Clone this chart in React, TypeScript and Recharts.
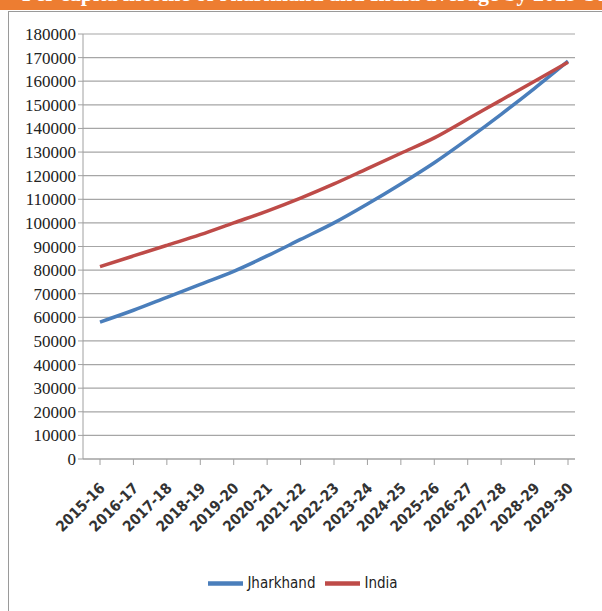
import {
  LineChart,
  Line,
  XAxis,
  YAxis,
  CartesianGrid,
  Legend,
} from "recharts";

const years = [
  "2015-16",
  "2016-17",
  "2017-18",
  "2018-19",
  "2019-20",
  "2020-21",
  "2021-22",
  "2022-23",
  "2023-24",
  "2024-25",
  "2025-26",
  "2026-27",
  "2027-28",
  "2028-29",
  "2029-30",
];

const jharkhand = [
  58000, 63000, 68500, 74000, 79500, 86000, 93000, 100000, 108000, 116500,
  125500, 135500, 146000, 157000, 168500,
];

const india = [
  81500, 86000, 90500, 95000, 100000, 105000, 110500, 116500, 123000, 129500,
  136000, 144000, 152000, 160000, 168000,
];

const yTicks = [
  0, 10000, 20000, 30000, 40000, 50000, 60000, 70000, 80000, 90000, 100000,
  110000, 120000, 130000, 140000, 150000, 160000, 170000, 180000,
];

const data = years.map((year, i) => ({
  year,
  Jharkhand: jharkhand[i],
  India: india[i],
}));

const seriesOrder = ["Jharkhand", "India"];

const YearTick = (props: any) => {
  const { x, y, payload } = props;
  return (
    <g transform={`translate(${x + 6},${y + 22})`}>
      <text
        textAnchor="end"
        transform="rotate(-45)"
        fontFamily="'DejaVu Sans Condensed', 'DejaVu Sans', sans-serif"
        fontWeight="bold"
        fontSize={15}
        fill="#333"
      >
        {payload.value}
      </text>
    </g>
  );
};

const App = () => {
  return (
    <div
      style={{
        position: "absolute",
        left: 0,
        top: 0,
        width: 602,
        height: 611,
        background: "#fff",
        overflow: "hidden",
      }}
    >
      <div
        style={{
          position: "absolute",
          left: 0,
          top: 0,
          width: 602,
          height: 10,
          background: "#ED7D31",
          overflow: "hidden",
        }}
      >
        <div
          style={{
            position: "absolute",
            left: 22,
            top: -19,
            whiteSpace: "nowrap",
            color: "#fff",
            fontFamily: "'Liberation Serif', serif",
            fontWeight: "bold",
            fontSize: 22,
          }}
        >
          Per capita income of Jharkhand and India average by 2029-30
        </div>
      </div>
      <div
        style={{
          position: "absolute",
          left: 8,
          top: 11,
          width: 600,
          height: 610,
          borderLeft: "1px solid #9a9a9a",
          borderTop: "1px solid #9a9a9a",
        }}
      />
      <div style={{ position: "absolute", left: 0, top: 0 }}>
        <LineChart
          width={602}
          height={611}
          data={data}
          margin={{ top: 34, right: 27, left: 10, bottom: 52 }}
        >
          <CartesianGrid
            vertical={false}
            stroke="#a6a6a6"
            strokeWidth={1.2}
          />
          <XAxis
            dataKey="year"
            interval={0}
            height={100}
            padding={{ left: 17, right: 7 }}
            tick={<YearTick />}
            tickSize={6}
            stroke="#a0a0a0"
          />
          <YAxis
            width={73}
            domain={[0, 180000]}
            ticks={yTicks}
            interval={0}
            tickSize={5}
            stroke="#a0a0a0"
            tick={{
              fill: "#222",
              fontFamily: "'Liberation Serif', serif",
              fontSize: 17,
            }}
          />
          <Legend
            layout="horizontal"
            verticalAlign="middle"
            align="center"
            iconType="plainline"
            iconSize={35}
            itemSorter={(item: any) => seriesOrder.indexOf(item.value)}
            wrapperStyle={{
              top: 566,
              left: 0,
              width: 616,
              fontFamily: "'DejaVu Sans Condensed', 'DejaVu Sans', sans-serif",
              fontSize: 15,
            }}
            formatter={(value: string) => (
              <span style={{ color: "#222" }}>{value}</span>
            )}
          />
          <Line
            type="monotone"
            dataKey="Jharkhand"
            stroke="#4A7EBB"
            strokeWidth={3.5}
            dot={false}
            isAnimationActive={false}
          />
          <Line
            type="monotone"
            dataKey="India"
            stroke="#BE4B48"
            strokeWidth={3.5}
            dot={false}
            isAnimationActive={false}
          />
        </LineChart>
      </div>
    </div>
  );
};

export default App;
